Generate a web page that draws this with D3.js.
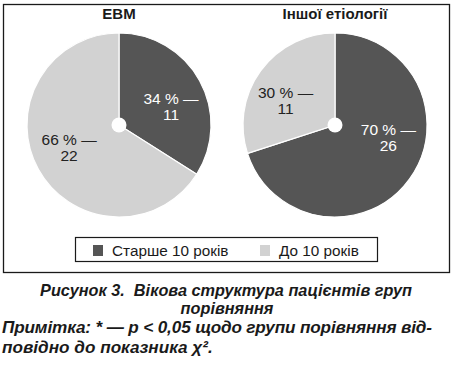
<!DOCTYPE html>
<html>
<head>
<meta charset="utf-8">
<script src="https://cdn.jsdelivr.net/npm/d3@7"></script>
<style>
  body { margin: 0; background: #fff; }
  svg { display: block; font-family: "Liberation Sans", Arial, Helvetica, sans-serif; }
  text { white-space: pre; }
</style>
</head>
<body>
<div id="chart"></div>
<script>
// data
const groups = ["ЕВМ", "Іншої етіології"];
const categories = ["Старше 10 років", "До 10 років"];
const percents = [[34, 66], [70, 30]];
const counts = [[11, 22], [26, 11]];
const caption = ["Рисунок 3.  Вікова структура пацієнтів груп", "порівняння"];
const note = ["Примітка: * — p < 0,05 щодо групи порівняння від-", "повідно до показника χ²."];

const width = 456, height = 365;
const colors = ["#555555", "#d2d2d2"];
const textColors = ["#ffffff", "#222222"];
// label placement tweaks (degrees off slice middle, radius)
const labelNudge = [[10, 4], [-22, -10]];
const labelR = 55;

const svg = d3.select("#chart").append("svg")
    .attr("width", width)
    .attr("height", height);

// frame
svg.append("rect")
    .attr("x", 3.5).attr("y", 4.5)
    .attr("width", 446).attr("height", 268)
    .attr("fill", "none")
    .attr("stroke", "#1a1a1a")
    .attr("stroke-width", 1.3);

const centers = d3.scaleOrdinal().domain(groups).range([119, 335]);
const cy = 125, R = 92;

const pie = d3.pie().sort(null).value(d => d.v);
const arc = d3.arc().innerRadius(0).outerRadius(R);

groups.forEach((g, gi) => {
    const cx = centers(g);
    const gg = svg.append("g").attr("transform", `translate(${cx},${cy})`);
    const data = pie(percents[gi].map((v, i) => ({v, i, n: counts[gi][i]})));

    gg.selectAll("path").data(data).enter().append("path")
        .attr("d", arc)
        .attr("fill", d => colors[d.data.i])
        .attr("stroke", "#fff")
        .attr("stroke-width", 1.2);

    gg.append("circle").attr("r", 7.5).attr("fill", "#fff");

    gg.append("text")
        .attr("y", -106)
        .attr("text-anchor", "middle")
        .attr("font-size", 15)
        .attr("font-weight", "bold")
        .attr("fill", "#1a1a1a")
        .text(g);

    data.forEach(d => {
        const a = (d.startAngle + d.endAngle) / 2 + labelNudge[gi][d.data.i] * Math.PI / 180;
        const x = Math.sin(a) * labelR, y = -Math.cos(a) * labelR;
        const t = gg.append("text")
            .attr("text-anchor", "middle")
            .attr("font-size", 15.5)
            .attr("fill", textColors[d.data.i]);
        t.append("tspan").attr("x", x).attr("y", y - 3).text(d.data.v + " % —");
        t.append("tspan").attr("x", x).attr("y", y + 13).text(d.data.n);
    });
});

// legend
const legend = svg.append("g");
legend.append("rect")
    .attr("x", 75.5).attr("y", 237.5)
    .attr("width", 302).attr("height", 24)
    .attr("fill", "none")
    .attr("stroke", "#1a1a1a")
    .attr("stroke-width", 1.2);
const legX = d3.scaleOrdinal().domain(categories).range([93, 260]);
categories.forEach((c, i) => {
    legend.append("rect")
        .attr("x", legX(c)).attr("y", 245)
        .attr("width", 10).attr("height", 11)
        .attr("fill", colors[i]);
    legend.append("text")
        .attr("x", legX(c) + 19).attr("y", 256)
        .attr("font-size", 15.3)
        .attr("fill", "#1a1a1a")
        .text(c);
});

// caption and note, bold italic
function fitText(sel, w) {
    const len = sel.node().getComputedTextLength();
    sel.attr("font-size", 15 * w / len);
}
const cap1 = svg.append("text").attr("x", 226).attr("y", 296)
    .attr("text-anchor", "middle").attr("font-size", 15)
    .attr("font-weight", "bold").attr("font-style", "italic")
    .attr("fill", "#1a1a1a").text(caption[0]);
fitText(cap1, 372);
const fs = cap1.attr("font-size");
svg.append("text").attr("x", 227).attr("y", 314)
    .attr("text-anchor", "middle").attr("font-size", fs)
    .attr("font-weight", "bold").attr("font-style", "italic")
    .attr("fill", "#1a1a1a").text(caption[1]);

const n2 = svg.append("text").attr("x", 2).attr("y", 353)
    .attr("font-size", 15)
    .attr("font-weight", "bold").attr("font-style", "italic")
    .attr("fill", "#1a1a1a").text(note[1]);
fitText(n2, 211);
svg.append("text").attr("x", 2).attr("y", 333)
    .attr("font-size", n2.attr("font-size"))
    .attr("font-weight", "bold").attr("font-style", "italic")
    .attr("fill", "#1a1a1a")
    .attr("textLength", 430)
    .text(note[0]);
</script>
</body>
</html>
